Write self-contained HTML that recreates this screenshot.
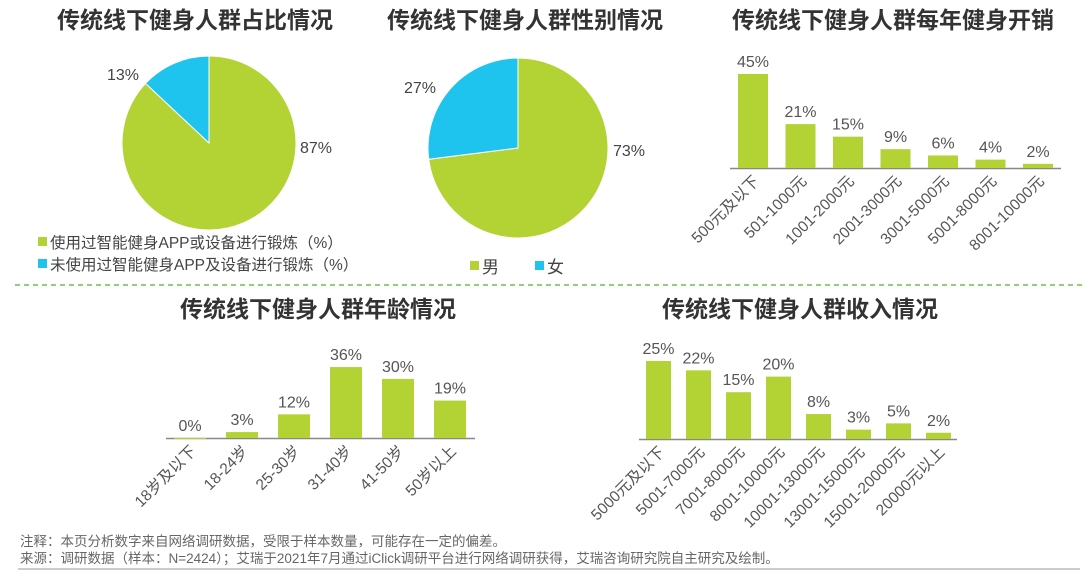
<!DOCTYPE html>
<html><head><meta charset="utf-8"><style>
body{margin:0;background:#fff;width:1090px;height:571px;overflow:hidden;font-family:"Liberation Sans","Noto Sans CJK SC",sans-serif}
</style></head><body>
<svg width="1090" height="571" xmlns="http://www.w3.org/2000/svg" font-family="Liberation Sans, Noto Sans CJK SC, sans-serif">
<g font-size="23" font-weight="bold" fill="#333" text-anchor="middle">
<text x="195" y="28">传统线下健身人群占比情况</text>
<text x="525" y="28">传统线下健身人群性别情况</text>
<text x="893" y="28">传统线下健身人群每年健身开销</text>
<text x="318" y="317">传统线下健身人群年龄情况</text>
<text x="800" y="317">传统线下健身人群收入情况</text>
</g>
<line x1="15" y1="285" x2="1082" y2="285" stroke="#6cc04a" stroke-width="1.5" stroke-dasharray="5,4"/>
<g id="pies"></g>
<g font-size="15.5" fill="#444">
<rect x="38" y="237" width="9" height="9" fill="#b3d234"/>
<text x="50" y="248">使用过智能健身APP或设备进行锻炼（%）</text>
<rect x="38" y="259" width="9" height="9" fill="#1fc4ee"/>
<text x="50" y="270">未使用过智能健身APP及设备进行锻炼（%）</text>
<rect x="470" y="261" width="9" height="9" fill="#b3d234"/>
<text x="482" y="273" font-size="17">男</text>
<rect x="535" y="261" width="9" height="9" fill="#1fc4ee"/>
<text x="547" y="273" font-size="17">女</text>
</g>
<g id="bars"></g>
<g font-size="13.5" fill="#666">
<text x="20" y="546">注释：本页分析数字来自网络调研数据，受限于样本数量，可能存在一定的偏差。</text>
<text x="20" y="563">来源：调研数据（样本：N=2424）；艾瑞于2021年7月通过iClick调研平台进行网络调研获得，艾瑞咨询研究院自主研究及绘制。</text>
</g>
<line x1="18" y1="569" x2="1080" y2="569" stroke="#999" stroke-width="1"/>
</svg>
<script>
const shareVals=[87,13];
const shareLabels=["87%","13%"];
const genderVals=[73,27];
const genderLabels=["73%","27%"];
const spendCats=["500元及以下","501-1000元","1001-2000元","2001-3000元","3001-5000元","5001-8000元","8001-10000元"];
const spendVals=[45,21,15,9,6,4,2];
const ageCats=["18岁及以下","18-24岁","25-30岁","31-40岁","41-50岁","50岁以上"];
const ageVals=[0,3,12,36,30,19];
const incomeCats=["5000元及以下","5001-7000元","7001-8000元","8001-10000元","10001-13000元","13001-15000元","15001-20000元","20000元以上"];
const incomeVals=[25,22,15,20,8,3,5,2];

const NS="http://www.w3.org/2000/svg";
function mk(tag,attrs,parent){const e=document.createElementNS(NS,tag);for(const k in attrs)e.setAttribute(k,attrs[k]);parent.appendChild(e);return e;}
const colors=["#b3d234","#1fc4ee"];
function pie(g,cx,cy,r,vals,labels,lpos,name){
  const total=vals.reduce((a,b)=>a+b,0);
  let a0=-Math.PI/2, small=vals[1]/total*2*Math.PI;
  const segs=[[a0,a0+2*Math.PI-small],[a0-small,a0]];
  segs.forEach((s,i)=>{
    const [s0,s1]=s;const large=(s1-s0)>Math.PI?1:0;
    const p=mk('path',{d:`M${cx},${cy}L${cx+r*Math.cos(s0)},${cy+r*Math.sin(s0)}A${r},${r} 0 ${large} 1 ${cx+r*Math.cos(s1)},${cy+r*Math.sin(s1)}Z`,fill:colors[i],stroke:'#fff','stroke-width':1},g);
    
    
    const t=mk('text',{x:lpos[i][0],y:lpos[i][1],'text-anchor':'middle','font-size':16,fill:'#444'},g);
    t.textContent=labels[i];
    
    
  });
}
const pg=document.getElementById('pies');
pie(pg,209,143,87,shareVals,shareLabels,[[316,153],[123,80]],'share-pie');
pie(pg,518,148,90,genderVals,genderLabels,[[629,156],[420,93]],'gender-pie');

function bars(g,cats,vals,o,name){
  const y=v=>o.base-v*o.scale;
  const ax=mk('line',{x1:o.ax0,x2:o.ax1,y1:o.base+0.5,y2:o.base+0.5,stroke:'#888','stroke-width':1.5},g);
  
  
  cats.forEach((c,i)=>{
    const x=o.x0+i*o.step, cxm=x+o.w/2;
    const r=mk('rect',{x:x,y:y(vals[i]),width:o.w,height:Math.max(vals[i]*o.scale,1),fill:'#b3d234'},g);
    
    
    const t=mk('text',{x:cxm,y:y(vals[i])-7,'text-anchor':'middle','font-size':16,fill:'#555'},g);
    t.textContent=vals[i]+'%';
    
    
    const l=mk('text',{x:cxm+7,y:o.base+14,'text-anchor':'end','font-size':15.5,fill:'#555',transform:`rotate(-45 ${cxm+7} ${o.base+14})`},g);
    l.textContent=c;
    
    
  });
}
const bg=document.getElementById('bars');
bars(bg,spendCats,spendVals,{x0:738,step:47.5,w:30,base:168,scale:2.09,ax0:730,ax1:1061},'spend');
bars(bg,ageCats,ageVals,{x0:174,step:52,w:32,base:438,scale:1.97,ax0:166,ax1:475},'age');
bars(bg,incomeCats,incomeVals,{x0:646,step:40,w:25,base:439,scale:3.12,ax0:639,ax1:957},'income');
</script>
</body></html>
